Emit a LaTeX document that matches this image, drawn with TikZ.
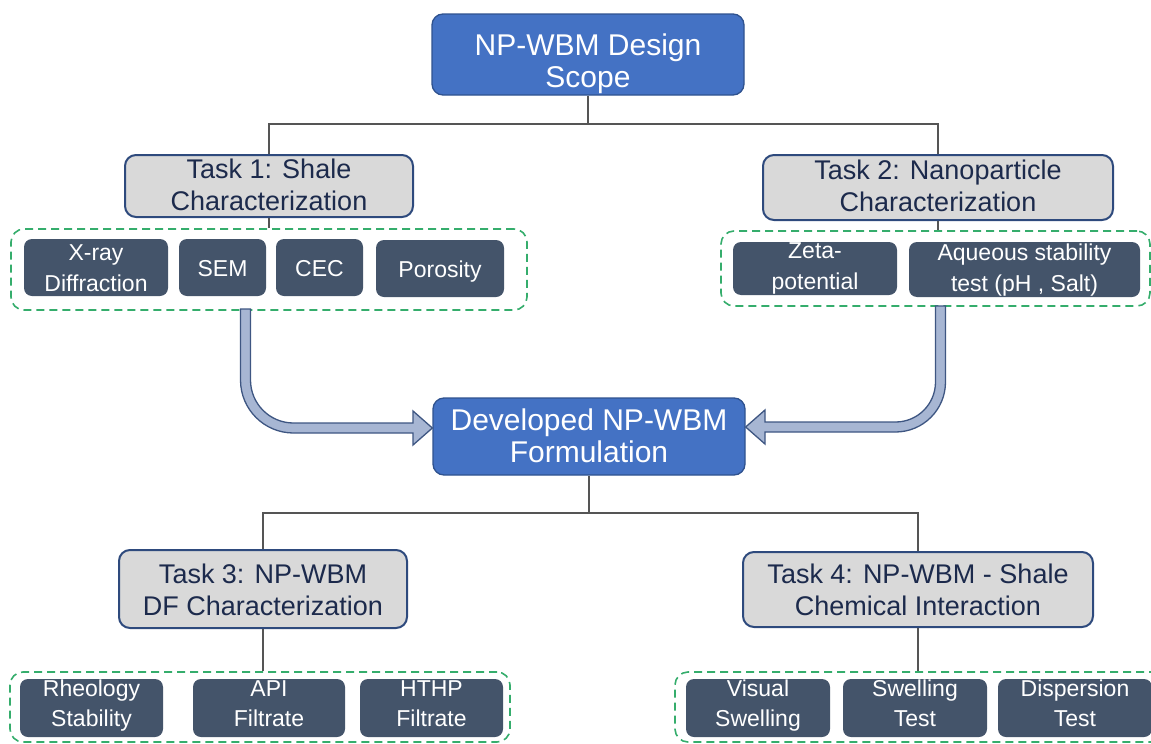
\documentclass[tikz,border=0pt]{standalone}
\usepackage{fontspec}
\setmainfont{Liberation Sans}
\definecolor{scopeblue}{HTML}{4472C4}
\definecolor{scopeedge}{HTML}{2F528F}
\definecolor{taskfill}{HTML}{D9D9D9}
\definecolor{taskedge}{HTML}{2E4A7D}
\definecolor{tasktext}{HTML}{1C2A4C}
\definecolor{itemfill}{HTML}{44546A}
\definecolor{groupedge}{HTML}{35AD6C}
\definecolor{linkgray}{HTML}{555555}
\definecolor{flowfill}{HTML}{A7B6D3}
\definecolor{flowedge}{HTML}{3E5682}
\begin{document}
\begin{tikzpicture}[x=1pt,y=-1pt,
  mainbox/.style={rectangle, rounded corners=11pt, fill=scopeblue, draw=scopeedge,
    line width=1.3pt, text=white, align=center, inner sep=0pt,
    font=\fontsize{30}{32.3}\selectfont},
  taskbox/.style={rectangle, rounded corners=11pt, fill=taskfill, draw=taskedge,
    line width=2pt, text=tasktext, align=center, inner sep=0pt,
    font=\fontsize{27}{32.4}\selectfont},
  itembox/.style={rectangle, rounded corners=8pt, fill=itemfill, draw=none,
    text=white, align=center, inner sep=0pt,
    font=\fontsize{23}{31}\selectfont},
  lowitem/.style={itembox, font=\fontsize{23}{30}\selectfont},
  groupbox/.style={rectangle, rounded corners=13pt, draw=groupedge,
    line width=1.6pt, dash pattern=on 8pt off 5pt, inner sep=0pt},
  link/.style={draw=linkgray, line width=1.2pt},
  flowarrow/.style={fill=flowfill, draw=flowedge, line width=1.3pt, line join=miter},
  sz/.style 2 args={minimum width=#1, minimum height=#2},
  tx/.style 2 args={text height=#1, text depth=#2}]

\useasboundingbox (0,0) rectangle (1151,744);
\clip (0,0) rectangle (1151,744);

% dashed groups of methods
\node[groupbox, sz={516pt}{81pt}] (g1) at (269,269.5) {};
\node[groupbox, sz={429pt}{75pt}] (g2) at (935.5,268.5) {};
\node[groupbox, sz={500pt}{70pt}] (g3) at (260,707) {};
\node[groupbox, sz={495pt}{70pt}] (g4) at (922.5,707) {};

% main boxes
\node[mainbox, sz={312pt}{81pt}, tx={71.6pt}{6pt}] (scope) at (588,54.5) {NP-WBM Design\\Scope};
\node[mainbox, sz={312pt}{77pt}, tx={57.6pt}{6pt}] (dev) at (589,436.5) {Developed NP-WBM\\Formulation};

% task boxes
\node[taskbox, sz={288pt}{62pt}, tx={55.4pt}{6pt}] (t1) at (269,186) {Task 1: Shale\\Characterization};
\node[taskbox, sz={350pt}{65pt}, tx={54.4pt}{6pt}] (t2) at (938,187.5) {Task 2: Nanoparticle\\Characterization};
\node[taskbox, sz={288pt}{78pt}, tx={59.4pt}{6pt}] (t3) at (263,589) {Task 3: NP-WBM\\DF Characterization};
\node[taskbox, sz={350pt}{75pt}, tx={58.4pt}{6pt}] (t4) at (918,589.5) {Task 4: NP-WBM - Shale\\Chemical Interaction};

% methods of task 1
\node[itembox, sz={144pt}{57pt}, tx={51pt}{4pt}] (xray) at (96,267.5) {X-ray\\Diffraction};
\node[itembox, sz={87pt}{57pt}, tx={17pt}{0pt}] (sem) at (222.5,267.5) {SEM};
\node[itembox, sz={87pt}{57pt}, tx={17pt}{0pt}] (cec) at (319.5,267.5) {CEC};
\node[itembox, sz={128pt}{57pt}, tx={17pt}{0pt}] (poro) at (440,268.5) {Porosity};

% methods of task 2
\node[itembox, sz={164pt}{53pt}, tx={46pt}{4pt}] (zeta) at (815,268.5) {Zeta-\\potential};
\node[itembox, sz={231pt}{55pt}, tx={47pt}{4pt}] (aque) at (1024.5,269.5) {Aqueous stability\\test (pH , Salt)};

% methods of task 3
\node[lowitem, sz={143pt}{58pt}, tx={41.4pt}{4pt}] (rheo) at (91.5,708) {Rheology\\Stability};
\node[lowitem, sz={152pt}{58pt}, tx={41.4pt}{4pt}] (api) at (269,708) {API\\Filtrate};
\node[lowitem, sz={143pt}{58pt}, tx={41.4pt}{4pt}] (hthp) at (431.5,708) {HTHP\\Filtrate};

% methods of task 4
\node[lowitem, sz={144pt}{58pt}, tx={41.4pt}{4pt}] (visual) at (758,708) {Visual\\Swelling};
\node[lowitem, sz={144pt}{58pt}, tx={41.4pt}{4pt}] (swell) at (915,708) {Swelling\\Test};
\node[lowitem, sz={154pt}{58pt}, tx={41.4pt}{4pt}] (disp) at (1075,708) {Dispersion\\Test};

% tree connectors
\coordinate (j1) at (scope.south |- 0,124);
\draw[link] (scope.south) -- (j1);
\draw[link] (j1) -| (t1.north);
\draw[link] (j1) -| (t2.north);
\draw[link] (t1.south) -- (t1.south |- g1.north);
\draw[link] (t2.south) -- (t2.south |- g2.north);

\coordinate (j2) at (dev.south |- 0,513);
\draw[link] (dev.south) -- (j2);
\draw[link] (j2) -| (t3.north);
\draw[link] (j2) -| (t4.north);
\draw[link] (t3.south) -- (t3.south |- g3.north);
\draw[link] (t4.south) -- (t4.south |- g4.north);

% bent block arrows feeding the formulation
\draw[flowarrow] (240.5,309) -- (240.5,380)
  .. controls (240.5,409.3) and (264.2,433) .. (293.5,433)
  -- (413,433) -- (413,445) -- (dev.west |- 0,428) -- (413,411) -- (413,423) -- (293.5,423)
  .. controls (269.75,423) and (250.5,403.75) .. (250.5,380)
  -- (250.5,309) -- cycle;
\draw[flowarrow] (945.5,306) -- (945.5,382)
  .. controls (945.5,409.6) and (923.1,432) .. (895.5,432)
  -- (765,432) -- (765,444) -- (dev.east |- 0,427) -- (765,410) -- (765,422) -- (895.5,422)
  .. controls (917.6,422) and (935.5,404.1) .. (935.5,382)
  -- (935.5,306) -- cycle;
\end{tikzpicture}
\end{document}
